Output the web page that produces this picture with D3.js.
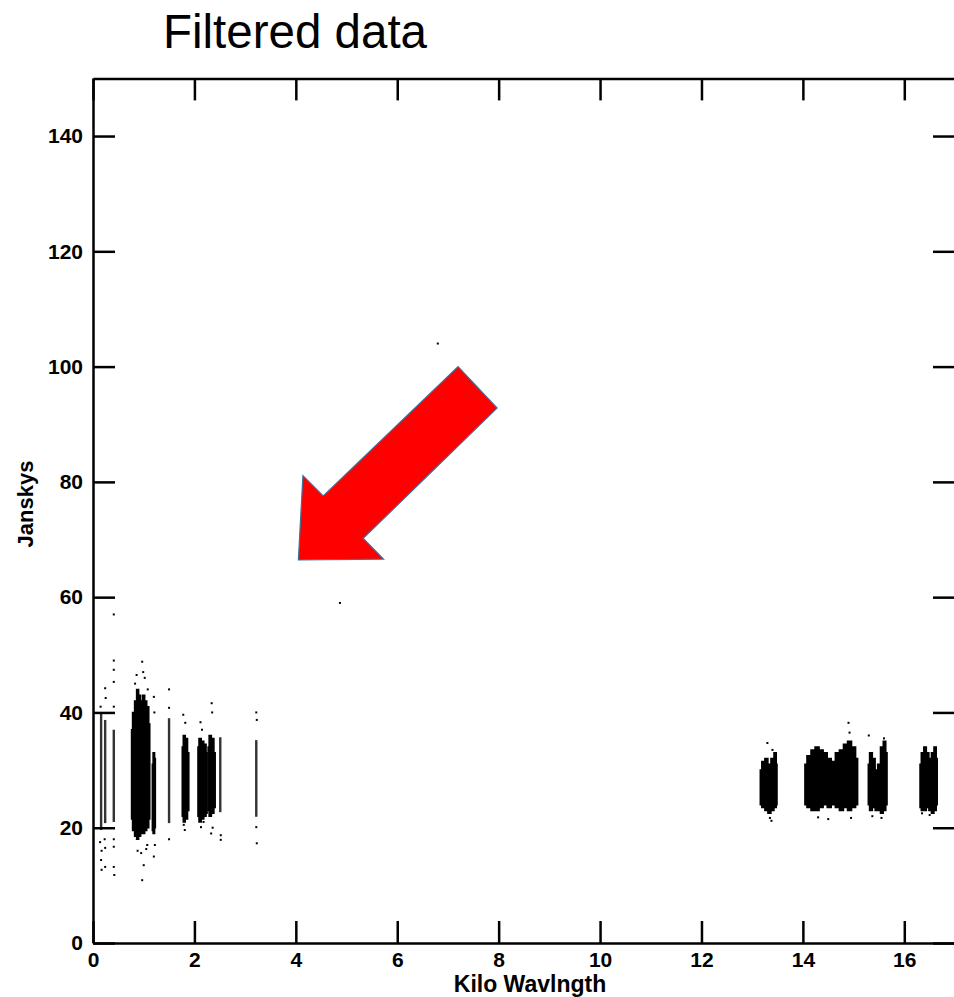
<!DOCTYPE html>
<html>
<head>
<meta charset="utf-8">
<script src="https://cdn.jsdelivr.net/npm/d3@7"></script>
<style>
  html, body { margin: 0; padding: 0; background: #fff; }
  svg { display: block; }
</style>
</head>
<body>
<div id="chart"></div>
<script>
// Visibility amplitude (Jy) against baseline length (kilo-wavelengths), after filtering.

// Axis ticks
const xTicks = [0, 2, 4, 6, 8, 10, 12, 14, 16];
const yTicks = [0, 20, 40, 60, 80, 100, 120, 140];

// Dense baseline groups: envelope of the points per group (x in kλ, low/high in Jy)
const groupX = [
  [0.76, 0.80, 0.84, 0.88, 0.92, 0.96, 1.00, 1.04, 1.08, 1.12],
  [1.17, 1.20, 1.23],
  [1.76, 1.80, 1.84, 1.89],
  [2.07, 2.11, 2.16, 2.21, 2.25],
  [2.27, 2.31, 2.36, 2.41],
  [13.16, 13.22, 13.28, 13.34, 13.40, 13.46, 13.49],
  [14.04, 14.12, 14.20, 14.28, 14.36, 14.44, 14.52, 14.60, 14.68, 14.76, 14.84, 14.92, 15.00, 15.08],
  [15.29, 15.34, 15.40, 15.45, 15.50, 15.56, 15.61, 15.66],
  [16.31, 16.36, 16.41, 16.46, 16.51, 16.56, 16.61, 16.65]
];
const groupHigh = [
  [37, 40, 42, 44, 43, 42, 43, 42, 41, 38],
  [31, 33, 32],
  [34, 36, 35.5, 33],
  [34, 35.5, 35, 34.5, 33],
  [34, 36, 35.5, 33],
  [30, 31.5, 32, 31, 32, 33, 31],
  [31, 32.5, 33.5, 34, 33.5, 33, 32, 31.5, 33, 33.5, 34.5, 35, 34, 32],
  [31, 33, 32, 30, 31, 34, 35, 33],
  [31, 33, 34, 33, 32, 33, 34, 32]
];
const groupLow = [
  [21.5, 19.5, 18.5, 18, 18.5, 19, 19, 19.5, 20, 21.5],
  [19.5, 19, 20],
  [22, 21, 21.5, 23],
  [22, 21, 21.5, 22, 22.5],
  [23, 22, 22.5, 23.5],
  [24, 23.5, 23, 22.5, 23, 23.5, 24],
  [24, 23.5, 23, 23, 23.5, 24, 23.5, 24, 23.5, 23, 23.5, 23, 23.5, 24],
  [24, 23, 23.5, 23, 23, 22.5, 23, 24],
  [23.5, 23, 23, 23.5, 23, 22.5, 23, 24]
];

// Single-baseline strips: x (kλ), low and high (Jy)
const stripX    = [0.16, 0.24, 0.41, 1.50, 2.51, 3.22];
const stripLow  = [19.6, 20.8, 21.0, 20.8, 22.7, 21.9];
const stripHigh = [40.0, 38.7, 37.0, 39.0, 35.7, 35.2];

// Scattered points outside the dense bands: [x (kλ), Jy]
const outliers = [
  [0.15, 41], [0.17, 16], [0.16, 14.4], [0.17, 12.7], [0.14, 17.5],
  [0.24, 44.2], [0.25, 42.5], [0.24, 16.5], [0.24, 13.2], [0.23, 18],
  [0.41, 57], [0.41, 49], [0.41, 47.4], [0.41, 45.3], [0.41, 41], [0.41, 16.7], [0.41, 13.2], [0.42, 11.8], [0.41, 18],
  [0.83, 45], [0.86, 46.5], [0.97, 48.8], [0.99, 47], [1.02, 46], [1.08, 44], [0.88, 16], [0.95, 15.6],
  [1.0, 13.5], [0.97, 10.9], [1.07, 17], [1.05, 16.3],
  [1.2, 42.7], [1.21, 40], [1.2, 15], [1.22, 17],
  [1.5, 44], [1.5, 40.8], [1.5, 18],
  [1.78, 39.6], [1.82, 38.2], [1.81, 19.6], [1.79, 20.5],
  [2.12, 38.3], [2.15, 37], [2.13, 20.1], [2.18, 21],
  [2.34, 41.6], [2.35, 40], [2.33, 19], [2.36, 20],
  [2.52, 18.7], [2.52, 17.9],
  [3.22, 40], [3.23, 38.7], [3.22, 20.1], [3.23, 17.3],
  [13.3, 34.7], [13.4, 33.5], [13.35, 21.7], [13.38, 21.2],
  [14.9, 38.2], [14.92, 36.5], [14.3, 21.8], [14.5, 21.5], [14.95, 21.7],
  [15.3, 36], [15.6, 35.5], [15.55, 21.7], [15.37, 22],
  [16.5, 22.2], [16.35, 22.5],
  [6.8, 104], [4.87, 59]
];

// Pointer annotation outline, in data units
const arrowX = [7.20, 7.97, 5.33, 5.73, 4.05, 4.14, 4.54];
const arrowY = [100.0, 92.8, 70.2, 66.6, 66.45, 81.1, 77.55];

const W = 954, H = 997;
const mLeft = 93, mRight = 955, mTop = 78.4, mBottom = 943;

const svg = d3.select("#chart").append("svg")
  .attr("width", W).attr("height", H)
  .style("font-family", "'Liberation Sans', Arial, sans-serif");

const x = d3.scaleLinear().domain([0, 17]).range([mLeft, mRight]);
const y = d3.scaleLinear().domain([0, 150]).range([mBottom, mTop]);

// Title
svg.append("text")
  .attr("x", 163).attr("y", 48)
  .attr("font-size", 47.5)
  .attr("fill", "#000")
  .text("Filtered data");

// Data
const plot = svg.append("g");

const area = d3.area()
  .x(d => x(d[0]))
  .y0(d => y(d[1]))
  .y1(d => y(d[2]))
  .curve(d3.curveStep);

groupX.forEach((xs, i) => {
  const pts = xs.map((v, j) => [v, groupLow[i][j], groupHigh[i][j]]);
  plot.append("path")
    .attr("d", area(pts))
    .attr("fill", "#000")
    .attr("stroke", "#000")
    .attr("stroke-width", 1.5);
});

plot.selectAll("rect.strip")
  .data(stripX.map((v, i) => [v, stripLow[i], stripHigh[i]]))
  .join("rect")
  .attr("class", "strip")
  .attr("x", d => x(d[0]) - 1.2)
  .attr("width", 2.4)
  .attr("y", d => y(d[2]))
  .attr("height", d => y(d[1]) - y(d[2]))
  .attr("fill", "#333");

plot.selectAll("rect.pt")
  .data(outliers)
  .join("rect")
  .attr("class", "pt")
  .attr("x", d => x(d[0]) - 1)
  .attr("y", d => y(d[1]) - 1)
  .attr("width", 2)
  .attr("height", 2)
  .attr("fill", "#000");

// Axes: ticks point inward on all four sides
const axisStyle = g => {
  g.select(".domain").attr("stroke", "#000").attr("stroke-width", 2.5);
  g.selectAll(".tick line").attr("stroke", "#000").attr("stroke-width", 2.5);
  g.selectAll(".tick text")
    .attr("fill", "#000")
    .attr("font-size", 21)
    .attr("font-weight", "bold")
    .attr("font-family", "'Liberation Sans', Arial, sans-serif");
};

svg.append("g")
  .attr("transform", `translate(0,${mBottom})`)
  .call(d3.axisBottom(x).tickValues(xTicks).tickFormat(d3.format("d"))
    .tickSizeInner(-22).tickSizeOuter(0).tickPadding(9))
  .call(axisStyle);

svg.append("g")
  .attr("transform", `translate(0,${mTop})`)
  .call(d3.axisTop(x).tickValues(xTicks).tickFormat("")
    .tickSizeInner(-22).tickSizeOuter(0))
  .call(axisStyle);

svg.append("g")
  .attr("transform", `translate(${mLeft},0)`)
  .call(d3.axisLeft(y).tickValues(yTicks).tickFormat(d3.format("d"))
    .tickSizeInner(-22).tickSizeOuter(0).tickPadding(10))
  .call(axisStyle);

svg.append("g")
  .attr("transform", `translate(${mRight},0)`)
  .call(d3.axisRight(y).tickValues(yTicks).tickFormat("")
    .tickSizeInner(-22).tickSizeOuter(0))
  .call(axisStyle);

// Axis titles
svg.append("text")
  .attr("x", 530).attr("y", 992)
  .attr("text-anchor", "middle")
  .attr("font-size", 23).attr("font-weight", "bold")
  .text("Kilo Wavlngth");

svg.append("text")
  .attr("transform", `translate(33,504) rotate(-90)`)
  .attr("text-anchor", "middle")
  .attr("font-size", 22).attr("font-weight", "bold")
  .text("Janskys");

// Red pointer
const arrowLine = d3.line().x(d => x(d[0])).y(d => y(d[1]));
svg.append("path")
  .attr("d", arrowLine(arrowX.map((v, i) => [v, arrowY[i]])) + "Z")
  .attr("fill", "#ff0000")
  .attr("stroke", "#41719c")
  .attr("stroke-width", 1.2)
  .attr("stroke-linejoin", "miter");
</script>
</body>
</html>
